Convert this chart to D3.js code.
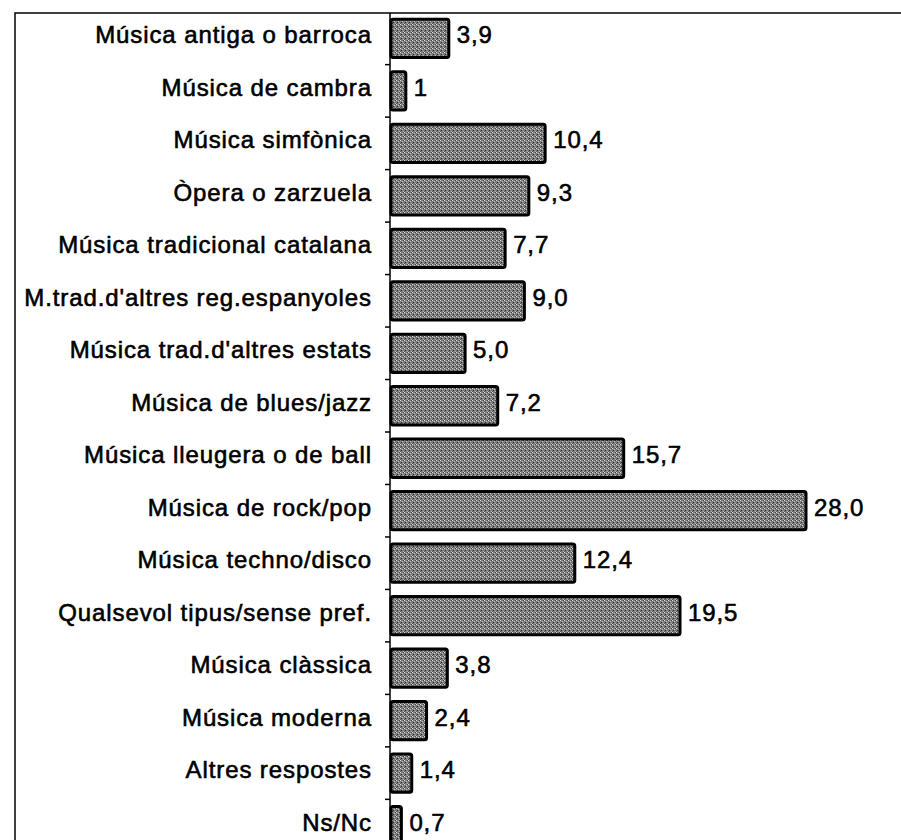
<!DOCTYPE html>
<html lang="ca">
<head>
    <meta charset="utf-8">
    <script src="https://d3js.org/d3.v7.min.js"></script>
    <style>
        body { margin: 0; background: #fff; }
        text { font-family: Arial, "Liberation Sans", sans-serif; fill: #000; }
    </style>
</head>
<body>
<script>
    // data
    const categories = [
        "Música antiga o barroca",
        "Música de cambra",
        "Música simfònica",
        "Òpera o zarzuela",
        "Música tradicional catalana",
        "M.trad.d'altres reg.espanyoles",
        "Música trad.d'altres estats",
        "Música de blues/jazz",
        "Música lleugera o de ball",
        "Música de rock/pop",
        "Música techno/disco",
        "Qualsevol tipus/sense pref.",
        "Música clàssica",
        "Música moderna",
        "Altres respostes",
        "Ns/Nc"
    ];
    const values = [3.9, 1, 10.4, 9.3, 7.7, 9.0, 5.0, 7.2, 15.7, 28.0, 12.4, 19.5, 3.8, 2.4, 1.4, 0.7];
    const valueLabels = ["3,9", "1", "10,4", "9,3", "7,7", "9,0", "5,0", "7,2", "15,7", "28,0", "12,4", "19,5", "3,8", "2,4", "1,4", "0,7"];

    const width = 901, height = 840;
    const axisX = 390;

    const svg = d3.select("body")
        .append("svg")
        .attr("width", width)
        .attr("height", height);

    // stippled grey fill like the printed bars
    const pat = svg.append("defs")
        .append("pattern")
        .attr("id", "stipple")
        .attr("width", 4)
        .attr("height", 4)
        .attr("patternUnits", "userSpaceOnUse");
    pat.append("rect").attr("width", 4).attr("height", 4).attr("fill", "#7d7d7d");
    pat.append("rect").attr("x", 0).attr("y", 0).attr("width", 1).attr("height", 1).attr("fill", "#dcdcdc");
    pat.append("rect").attr("x", 2).attr("y", 1).attr("width", 1).attr("height", 1).attr("fill", "#c4c4c4");
    pat.append("rect").attr("x", 1).attr("y", 2).attr("width", 1).attr("height", 1).attr("fill", "#2e2e2e");
    pat.append("rect").attr("x", 3).attr("y", 3).attr("width", 1).attr("height", 1).attr("fill", "#b8b8b8");
    pat.append("rect").attr("x", 3).attr("y", 0).attr("width", 1).attr("height", 1).attr("fill", "#444");
    pat.append("rect").attr("x", 0).attr("y", 3).attr("width", 1).attr("height", 1).attr("fill", "#555");

    // frame (runs off the right and bottom edges in the scan)
    svg.append("rect")
        .attr("x", 15)
        .attr("y", 13)
        .attr("width", 900)
        .attr("height", 840)
        .attr("fill", "none")
        .attr("stroke", "#000")
        .attr("stroke-width", 1.5);

    const xScale = d3.scaleLinear()
        .domain([0, 28])
        .range([axisX, 805]);

    const yScale = d3.scaleBand()
        .domain(categories)
        .range([14, 850])
        .paddingInner(0.27)
        .paddingOuter(0.1);

    const step = yScale.step();

    // vertical axis with ticks at band boundaries
    const g = svg.append("g");
    g.append("line")
        .attr("x1", axisX).attr("x2", axisX)
        .attr("y1", 13).attr("y2", height)
        .attr("stroke", "#000")
        .attr("stroke-width", 1.5);

    g.selectAll(".tick")
        .data(categories.slice(1))
        .enter()
        .append("line")
        .attr("x1", axisX - 5).attr("x2", axisX)
        .attr("y1", d => yScale(d) - yScale.paddingInner() * step / 2)
        .attr("y2", d => yScale(d) - yScale.paddingInner() * step / 2)
        .attr("stroke", "#000")
        .attr("stroke-width", 1.5);

    // bars
    svg.append("g")
        .selectAll("rect")
        .data(values)
        .enter()
        .append("rect")
        .attr("x", xScale(0) + 1)
        .attr("y", (d, i) => yScale(categories[i]))
        .attr("width", d => xScale(d) - xScale(0))
        .attr("height", yScale.bandwidth())
        .attr("rx", 2)
        .attr("fill", "url(#stipple)")
        .attr("stroke", "#000")
        .attr("stroke-width", 3);

    // category labels
    svg.append("g")
        .selectAll("text")
        .data(categories)
        .enter()
        .append("text")
        .attr("x", 372)
        .attr("y", d => yScale(d) + yScale.bandwidth() / 2 + 5)
        .attr("text-anchor", "end")
        .attr("font-size", 24)
        .attr("letter-spacing", 0.9)
        .attr("stroke", "#000")
        .attr("stroke-width", 0.6)
        .text(d => d);

    // value labels
    svg.append("g")
        .selectAll("text")
        .data(values)
        .enter()
        .append("text")
        .attr("x", d => xScale(d) + 9)
        .attr("y", (d, i) => yScale(categories[i]) + yScale.bandwidth() / 2 + 5)
        .attr("font-size", 24)
        .attr("letter-spacing", 0.9)
        .attr("stroke", "#000")
        .attr("stroke-width", 0.6)
        .text((d, i) => valueLabels[i]);
</script>
</body>
</html>
